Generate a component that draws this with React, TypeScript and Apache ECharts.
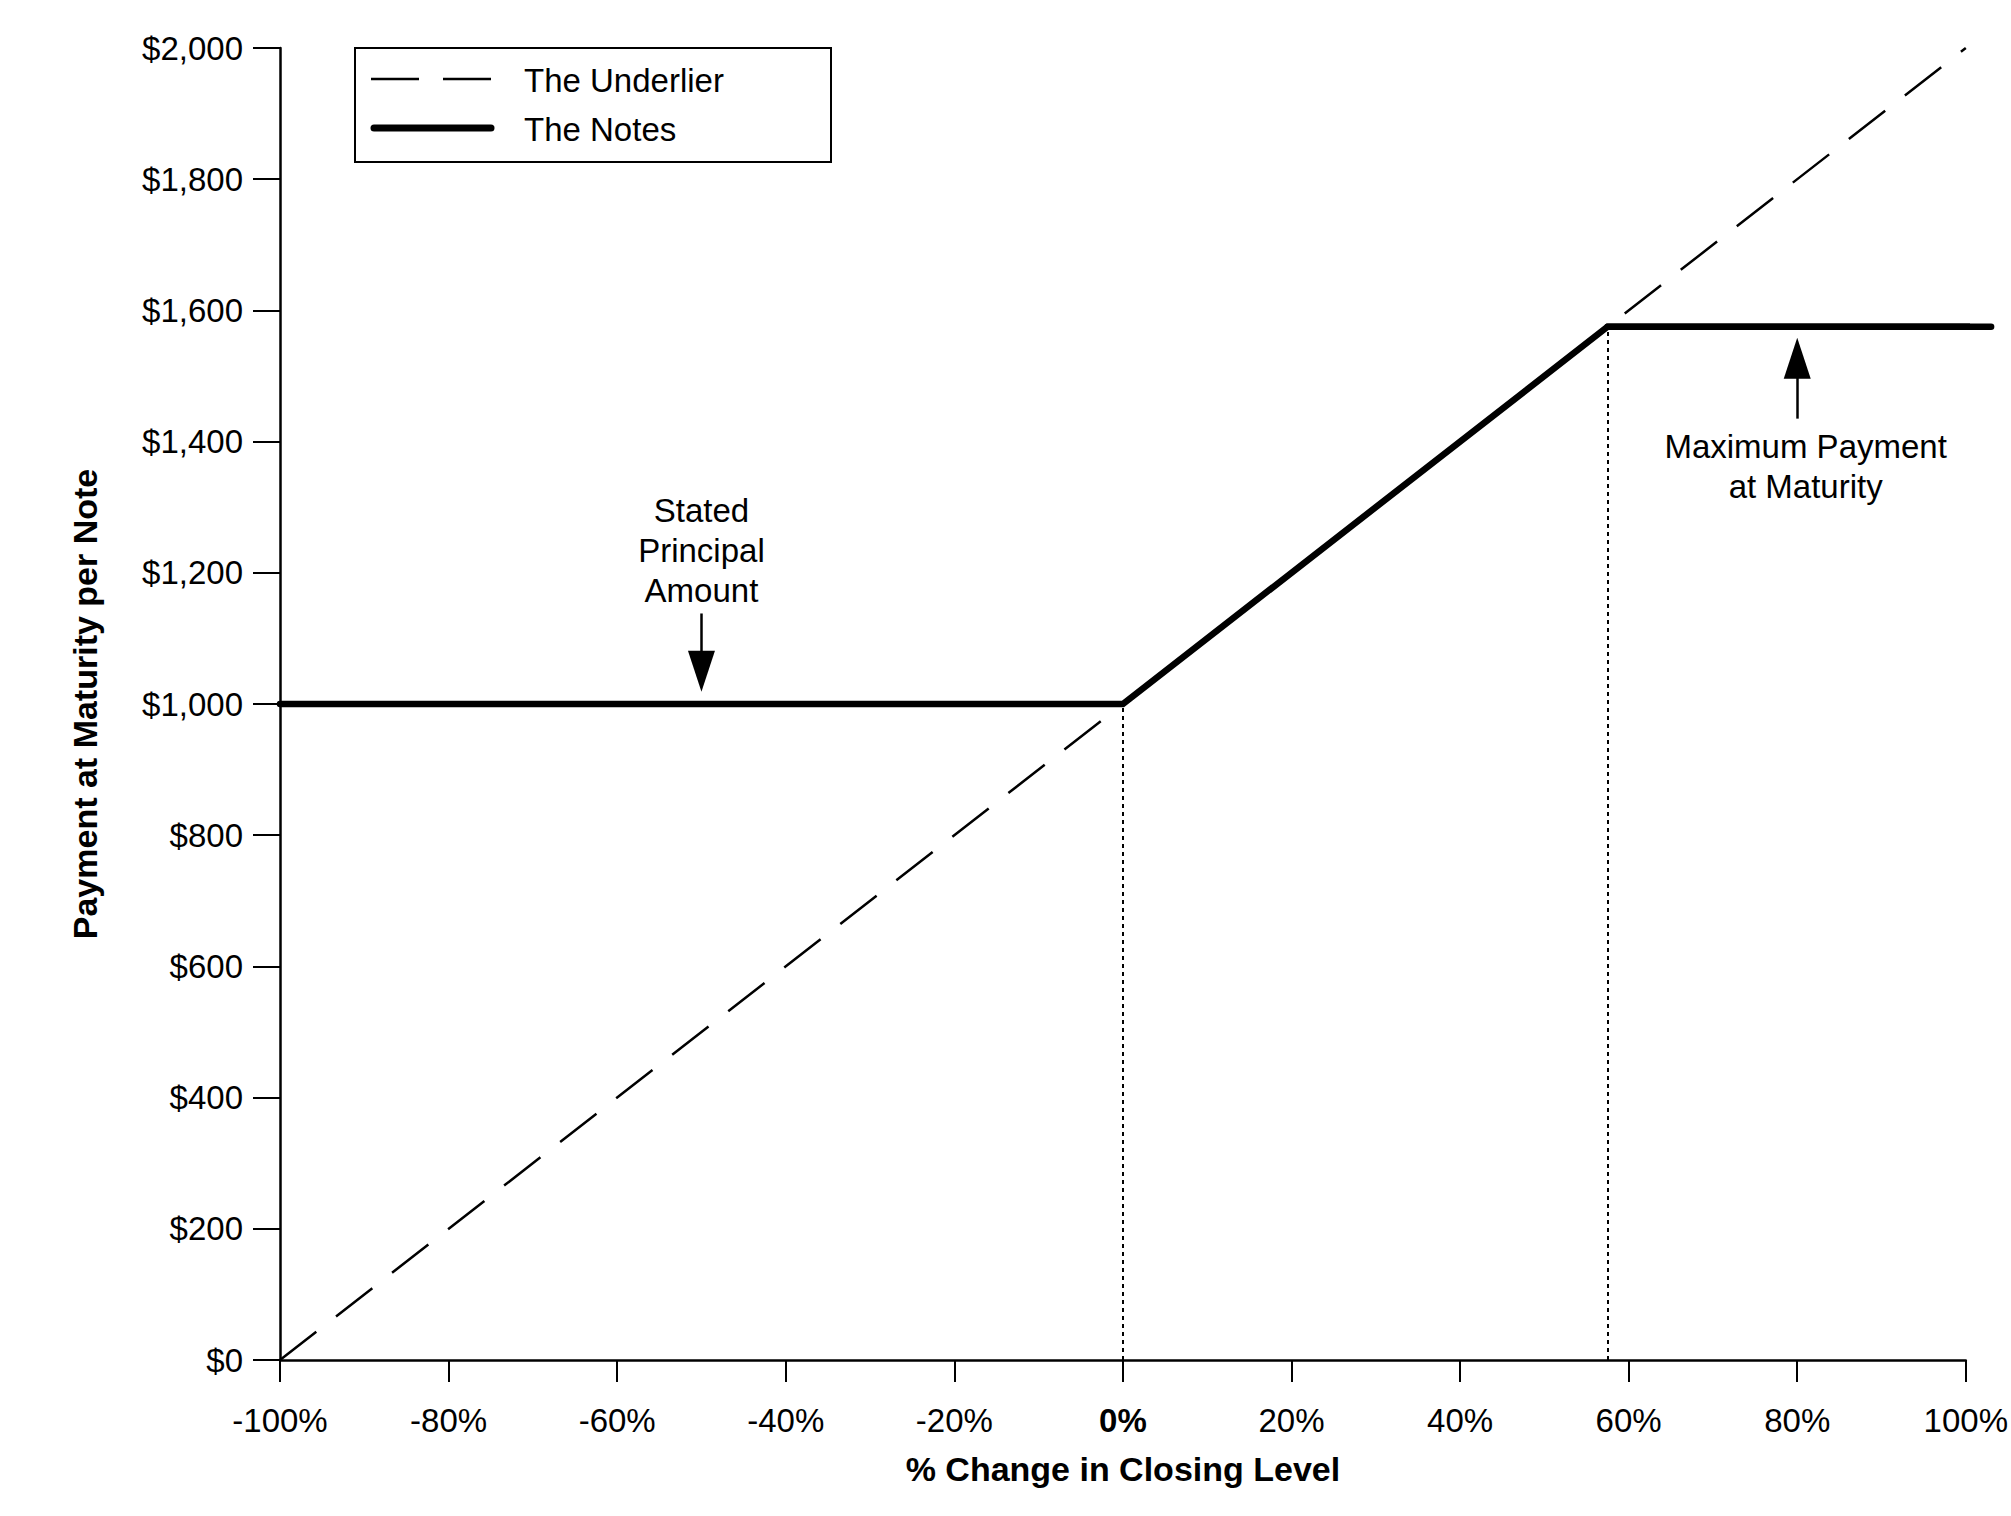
import React, { useEffect, useRef } from "react";
import * as echarts from "echarts";

const FONT = "'Liberation Sans', Arial, sans-serif";

// X: % change in closing level; Y: payment at maturity per note ($)
const X_MIN = -100;
const X_MAX = 100;
const X_INTERVAL = 20;
const Y_MIN = 0;
const Y_MAX = 2000;
const Y_INTERVAL = 200;

const UNDERLIER_X = [-100, 100];
const UNDERLIER_Y = [0, 2000];

const NOTES_X = [-100, 0, 57.5, 103];
const NOTES_Y = [1000, 1000, 1575, 1575];

const PRINCIPAL = 1000;
const CAP_X = 57.5;
const CAP_Y = 1575;

const LEGEND_LABELS = ["The Underlier", "The Notes"];

const ANNOT_PRINCIPAL_TEXT = "Stated\nPrincipal\nAmount";
const ANNOT_PRINCIPAL_POS = [-50, 1234];
const ANNOT_PRINCIPAL_ARROW = [
  [-50, 1138],
  [-50, 1050],
];
const ANNOT_MAX_TEXT = "Maximum Payment\nat Maturity";
const ANNOT_MAX_POS = [81, 1362];
const ANNOT_MAX_ARROW = [
  [80, 1435],
  [80, 1527],
];

const fmtDollar = (v: number) =>
  "$" + String(v).replace(/\B(?=(\d{3})+(?!\d))/g, ",");

export default function App() {
  const ref = useRef<HTMLDivElement>(null);

  useEffect(() => {
    if (!ref.current) return;
    const chart = echarts.init(ref.current, null, { renderer: "svg" });

    const underlierData = UNDERLIER_X.map((x, i) => [x, UNDERLIER_Y[i]]);
    const notesData = NOTES_X.map((x, i) => [x, NOTES_Y[i]]);

    const labelBase = {
      show: true,
      position: "inside",
      color: "#000",
      fontFamily: FONT,
      fontSize: 33,
      lineHeight: 40,
      align: "center",
      verticalAlign: "middle",
    };

    const legendGraphic = {
      id: "legend",
      type: "group",
      left: 354,
      top: 47,
      children: [
        {
          type: "rect",
          shape: { x: 0, y: 0, width: 476, height: 114 },
          style: { fill: "#fff", stroke: "#000", lineWidth: 2 },
        },
        {
          type: "line",
          shape: { x1: 16, y1: 31, x2: 140, y2: 31 },
          style: { stroke: "#000", lineWidth: 2.5, lineDash: [48, 24] },
        },
        {
          type: "line",
          shape: { x1: 19, y1: 80, x2: 136, y2: 80 },
          style: { stroke: "#000", lineWidth: 7, lineCap: "round" },
        },
        {
          type: "text",
          x: 169,
          y: 32,
          style: {
            text: LEGEND_LABELS[0],
            fontFamily: FONT,
            fontSize: 33,
            fill: "#000",
            verticalAlign: "middle",
          },
        },
        {
          type: "text",
          x: 169,
          y: 81,
          style: {
            text: LEGEND_LABELS[1],
            fontFamily: FONT,
            fontSize: 33,
            fill: "#000",
            verticalAlign: "middle",
          },
        },
      ],
    };

    chart.setOption({
      animation: false,
      backgroundColor: "#fff",
      grid: { left: 280, right: 38, top: 48, bottom: 156, containLabel: false },
      xAxis: {
        type: "value",
        min: X_MIN,
        max: X_MAX,
        interval: X_INTERVAL,
        name: "% Change in Closing Level",
        nameLocation: "middle",
        nameGap: 92,
        nameTextStyle: {
          fontFamily: FONT,
          fontSize: 34,
          fontWeight: "bold",
          color: "#000",
        },
        axisLine: { show: true, onZero: false, lineStyle: { color: "#000", width: 2.5 } },
        axisTick: { show: true, length: 22, lineStyle: { color: "#000", width: 2 } },
        splitLine: { show: false },
        axisLabel: {
          margin: 44,
          color: "#000",
          fontFamily: FONT,
          fontSize: 33,
          formatter: (v: number) => (v === 0 ? "{b|0%}" : v + "%"),
          rich: {
            b: { fontFamily: FONT, fontSize: 33, fontWeight: "bold", color: "#000" },
          },
        },
      },
      yAxis: {
        type: "value",
        min: Y_MIN,
        max: Y_MAX,
        interval: Y_INTERVAL,
        name: "Payment at Maturity per Note",
        nameLocation: "middle",
        nameGap: 178,
        nameTextStyle: {
          fontFamily: FONT,
          fontSize: 34,
          fontWeight: "bold",
          color: "#000",
        },
        axisLine: { show: true, onZero: false, lineStyle: { color: "#000", width: 2.5 } },
        axisTick: { show: true, length: 27, lineStyle: { color: "#000", width: 2 } },
        splitLine: { show: false },
        axisLabel: {
          margin: 37,
          color: "#000",
          fontFamily: FONT,
          fontSize: 33,
          formatter: (v: number) => fmtDollar(v),
        },
      },
      series: [
        {
          name: LEGEND_LABELS[0],
          type: "line",
          data: underlierData,
          symbol: "none",
          clip: false,
          z: 2,
          lineStyle: { color: "#000", width: 2.5, type: [46, 25] },
          markLine: {
            silent: true,
            symbol: ["none", "triangle"],
            symbolSize: [27, 41],
            label: { show: false },
            lineStyle: { color: "#000", width: 2.5, type: "solid" },
            itemStyle: { color: "#000" },
            data: [
              [
                { coord: ANNOT_PRINCIPAL_ARROW[0] },
                { coord: ANNOT_PRINCIPAL_ARROW[1] },
              ],
              [{ coord: ANNOT_MAX_ARROW[0] }, { coord: ANNOT_MAX_ARROW[1] }],
            ],
          },
          markPoint: {
            silent: true,
            symbol: "circle",
            symbolSize: 1,
            itemStyle: { color: "rgba(0,0,0,0)" },
            data: [
              {
                coord: ANNOT_PRINCIPAL_POS,
                label: { ...labelBase, formatter: ANNOT_PRINCIPAL_TEXT },
              },
              {
                coord: ANNOT_MAX_POS,
                label: { ...labelBase, formatter: ANNOT_MAX_TEXT },
              },
            ],
          },
        },
        {
          name: LEGEND_LABELS[1],
          type: "line",
          data: notesData,
          symbol: "none",
          clip: false,
          z: 3,
          lineStyle: { color: "#000", width: 6.5, cap: "round", join: "miter" },
          markLine: {
            silent: true,
            symbol: ["none", "none"],
            label: { show: false },
            lineStyle: { color: "#000", width: 2, type: [4, 4] },
            data: [
              [{ coord: [0, Y_MIN] }, { coord: [0, PRINCIPAL] }],
              [{ coord: [CAP_X, Y_MIN] }, { coord: [CAP_X, CAP_Y] }],
            ],
          },
        },
      ],
      graphic: [legendGraphic],
    });

    // The notes line runs a little past the 100% end of the axis: draw that
    // overhang from the data through the chart's own coordinate conversion.
    const n = NOTES_X.length;
    const finder = { xAxisIndex: 0, yAxisIndex: 0 };
    const pA = chart.convertToPixel(finder, [NOTES_X[n - 2], NOTES_Y[n - 2]]) as number[];
    const pB = chart.convertToPixel(finder, [NOTES_X[n - 1], NOTES_Y[n - 1]]) as number[];
    if (pA && pB) {
      chart.setOption({
        graphic: [
          legendGraphic,
          {
            id: "notesTail",
            type: "line",
            z: 5,
            shape: { x1: pA[0], y1: pA[1], x2: pB[0], y2: pB[1] },
            style: { stroke: "#000", lineWidth: 6.5, lineCap: "round" },
          },
        ],
      });
    }

    return () => chart.dispose();
  }, []);

  return (
    <div
      ref={ref}
      style={{ position: "absolute", left: 0, top: 0, width: 2011, height: 1516 }}
    />
  );
}
